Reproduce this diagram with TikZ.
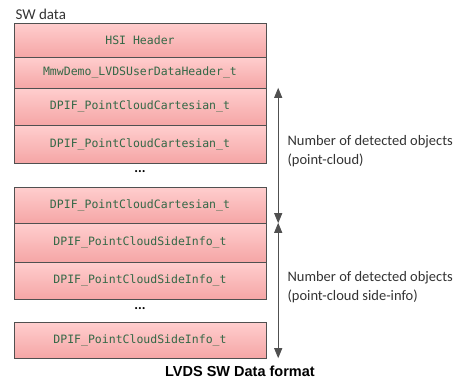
\documentclass[tikz,border=0pt]{standalone}
\usepackage{fontspec}
\setmainfont{Carlito}
\newfontfamily\codefont{DejaVu Sans Mono}
\newfontfamily\capfont{Liberation Sans}
\usepackage{xcolor}
\usetikzlibrary{arrows.meta}
\definecolor{fieldtop}{RGB}{255,206,206}
\definecolor{fieldbot}{RGB}{245,166,166}
\definecolor{codegreen}{RGB}{52,104,70}
\definecolor{linegray}{RGB}{80,80,80}

\tikzset{
  fieldbox/.style={rectangle, draw=linegray, top color=fieldtop, bottom color=fieldbot,
    minimum width=252pt, inner sep=0pt, text=codegreen, font=\codefont\fontsize{11.5}{13}\selectfont},
  countarrow/.style={draw=linegray, line width=0.9pt, {Triangle[length=10pt,width=8pt]}-{Triangle[length=10pt,width=8pt]}},
  countlabel/.style={anchor=west, align=left, text=black!80, font=\fontsize{14.5}{18.5}\selectfont}
}

\begin{document}
\begin{tikzpicture}[x=1pt, y=-1pt]
\useasboundingbox (0,0) rectangle (462,380);
% title
\node[anchor=west, text=black!80, font=\fontsize{15}{18}\selectfont] (title) at (12,14) {SW data};

% record fields
\node[fieldbox, minimum height=34pt] (hsi) at (140,40) {HSI Header};
\node[fieldbox, minimum height=31pt] (usr) at (140,72.5) {MmwDemo\_LVDSUserDataHeader\_t};
\node[fieldbox, minimum height=37pt] (cartA) at (140,106.5) {DPIF\_PointCloudCartesian\_t};
\node[fieldbox, minimum height=38pt] (cartB) at (140,144) {DPIF\_PointCloudCartesian\_t};
\node[font=\bfseries\fontsize{14}{14}\selectfont] (dotsA) at (140,172) {...};
\node[fieldbox, minimum height=36pt] (cartC) at (140,205) {DPIF\_PointCloudCartesian\_t};
\node[fieldbox, minimum height=39pt] (sideA) at (140,242.5) {DPIF\_PointCloudSideInfo\_t};
\node[fieldbox, minimum height=37pt] (sideB) at (140,280.5) {DPIF\_PointCloudSideInfo\_t};
\node[font=\bfseries\fontsize{14}{14}\selectfont] (dotsB) at (140,309) {...};
\node[fieldbox, minimum height=36pt] (sideC) at (140,340) {DPIF\_PointCloudSideInfo\_t};

% object counts
\coordinate (cloudtop) at ([xshift=12pt]cartA.north east);
\coordinate (cloudbot) at ([xshift=12pt]cartC.south east);
\coordinate (sidetop) at ([xshift=12pt]sideA.north east);
\coordinate (sidebot) at ([xshift=12pt]sideC.south east);
\draw[countarrow] (cloudtop) -- (cloudbot);
\draw[countarrow] (sidetop) -- (sidebot);
\node[countlabel] (cloudlbl) at (284,151) {Number of detected objects\\(point-cloud)};
\node[countlabel] (sidelbl) at (284,287) {Number of detected objects\\(point-cloud side-info)};

% caption
\node[font=\capfont\bfseries\fontsize{14.5}{16}\selectfont] (caption) at (240,371) {LVDS SW Data format};
\end{tikzpicture}
\end{document}
